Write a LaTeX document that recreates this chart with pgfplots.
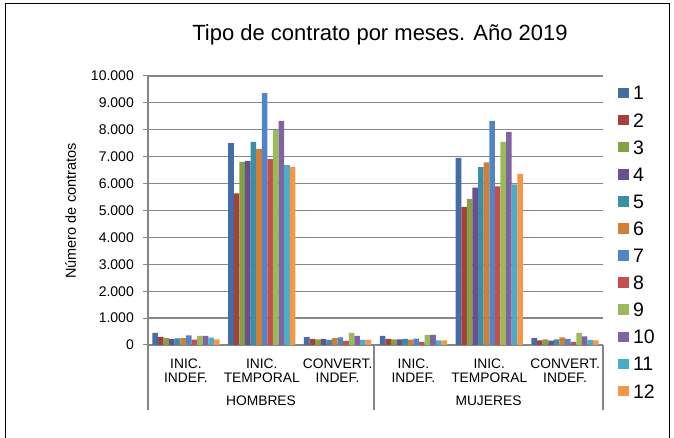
\documentclass[border=0pt]{standalone}
\usepackage{fontspec}
\setmainfont{Liberation Sans}
\usepackage{pgfplots}
\pgfplotsset{compat=1.18}
\definecolor{c1}{HTML}{426DA6}
\definecolor{c2}{HTML}{A5403D}
\definecolor{c3}{HTML}{86A044}
\definecolor{c4}{HTML}{6B5090}
\definecolor{c5}{HTML}{3A8FA8}
\definecolor{c6}{HTML}{D27E34}
\definecolor{c7}{HTML}{4F86C7}
\definecolor{c8}{HTML}{C4504D}
\definecolor{c9}{HTML}{9BBB59}
\definecolor{c10}{HTML}{8064A2}
\definecolor{c11}{HTML}{4BACC6}
\definecolor{c12}{HTML}{F79646}
\definecolor{axgray}{RGB}{134,134,134}
\begin{document}
\begin{tikzpicture}[x=1pt,y=1pt]
\useasboundingbox (0,0) rectangle (674,438);
\draw[black, line width=0.9pt] (5,-5) rectangle (669.5,435);
\begin{axis}[
  at={(148pt,93pt)}, anchor=south west, scale only axis,
  width=455pt, height=269pt,
  ybar=0pt, bar width=5.6pt,
  xmin=-0.5, xmax=5.5, ymin=0, ymax=10000,
  xtick={0,1,2,3,4,5},
  xticklabels={{INIC.\\INDEF.},{INIC.\\TEMPORAL},{CONVERT.\\INDEF.},{INIC.\\INDEF.},{INIC.\\TEMPORAL},{CONVERT.\\INDEF.}},
  xticklabel style={align=center, inner sep=0pt, font=\fontsize{13.8}{14.5}\selectfont, yshift=-8.5pt},
  x tick style={draw=none},
  ytick={0,1000,...,10000},
  y tick style={axgray, line width=1pt},
  tick align=outside, major tick length=5pt,
  yticklabel style={inner sep=0pt, font=\fontsize{14}{14}\selectfont, xshift=-9pt},
  /pgf/number format/.cd, 1000 sep={.}, assume math mode=true, /pgfplots/.cd,
  scaled y ticks=false,
  axis x line*=bottom, axis y line*=left,
  axis line style={-, axgray, line width=1.2pt},
  ymajorgrids, grid style={axgray, line width=1.2pt},
  clip=false,
  legend image code/.code={\fill[#1, draw=none] (0pt,-5.3pt) rectangle (10.7pt,5.3pt);},
  legend style={at={(1.033,0.963)}, anchor=north west, draw=none, fill=none,
    font=\fontsize{19.5}{19.5}\selectfont, row sep=13.1pt, column sep=4.3pt,
    inner sep=0pt, outer sep=0pt,
    nodes={inner sep=0pt, text height=14pt, text depth=0pt}},
  legend cell align=left,
]
\addplot[fill=c1, draw=none] coordinates {(0,446)(1,7500)(2,297)(3,340)(4,6960)(5,260)};
\addplot[fill=c2, draw=none] coordinates {(0,297)(1,5640)(2,223)(3,223)(4,5130)(5,173)};
\addplot[fill=c3, draw=none] coordinates {(0,260)(1,6810)(2,210)(3,210)(4,5430)(5,210)};
\addplot[fill=c4, draw=none] coordinates {(0,223)(1,6840)(2,223)(3,210)(4,5850)(5,161)};
\addplot[fill=c5, draw=none] coordinates {(0,248)(1,7550)(2,186)(3,223)(4,6610)(5,210)};
\addplot[fill=c6, draw=none] coordinates {(0,260)(1,7290)(2,260)(3,198)(4,6790)(5,285)};
\addplot[fill=c7, draw=none] coordinates {(0,360)(1,9360)(2,285)(3,235)(4,8330)(5,223)};
\addplot[fill=c8, draw=none] coordinates {(0,198)(1,6910)(2,149)(3,112)(4,5900)(5,112)};
\addplot[fill=c9, draw=none] coordinates {(0,335)(1,7990)(2,446)(3,372)(4,7550)(5,446)};
\addplot[fill=c10, draw=none] coordinates {(0,335)(1,8330)(2,335)(3,372)(4,7920)(5,322)};
\addplot[fill=c11, draw=none] coordinates {(0,273)(1,6690)(2,186)(3,173)(4,5970)(5,186)};
\addplot[fill=c12, draw=none] coordinates {(0,210)(1,6620)(2,186)(3,173)(4,6360)(5,173)};
\legend{1,2,3,4,5,6,7,8,9,10,11,12}
\end{axis}
\draw[axgray, line width=1.2pt] (148,93) -- (148,28);
\draw[axgray, line width=1.2pt] (374,93) -- (374,28);
\draw[axgray, line width=1.2pt] (603,93) -- (603,28);
\node[font=\fontsize{13.8}{14}\selectfont, anchor=base] at (261,32) {HOMBRES};
\node[font=\fontsize{13.8}{14}\selectfont, anchor=base] at (488.5,32) {MUJERES};
\node[font=\fontsize{22}{22}\selectfont, anchor=base] at (380,397) {Tipo de contrato por meses. Año 2019};
\node[font=\fontsize{14.5}{15}\selectfont, rotate=90] at (70.7,227) {Número de contratos};
\end{tikzpicture}
\end{document}
